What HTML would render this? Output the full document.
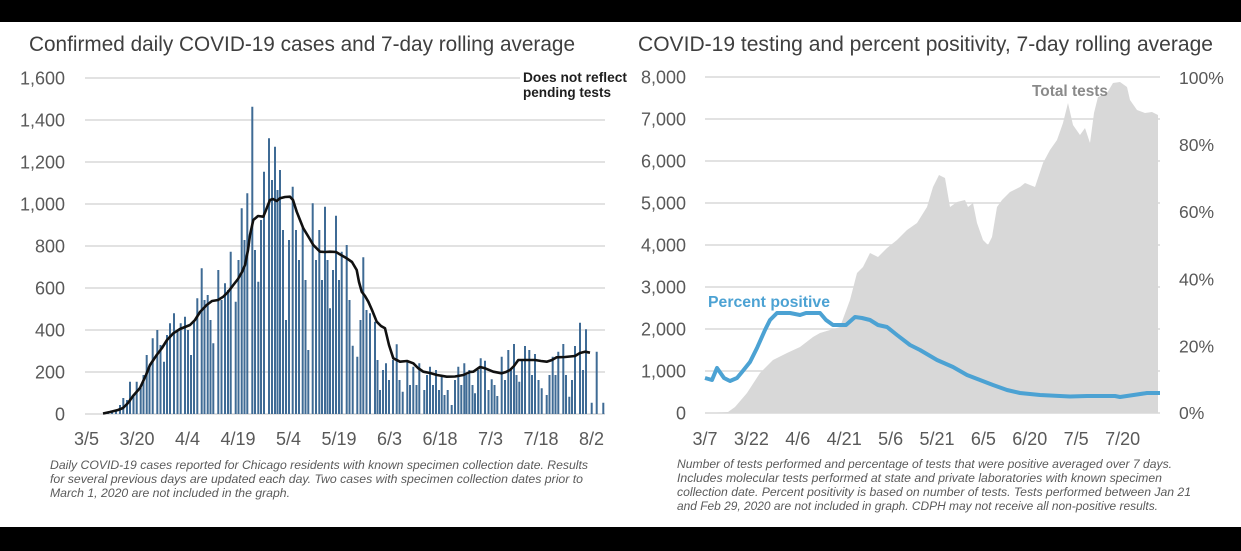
<!DOCTYPE html>
<html>
<head>
<meta charset="utf-8">
<style>
  html, body { margin: 0; padding: 0; background: #ffffff; }
  svg { display: block; }
  text { font-family: "Liberation Sans", Arial, sans-serif; }
</style>
</head>
<body>
<svg width="1241" height="551" viewBox="0 0 1241 551" xmlns="http://www.w3.org/2000/svg">
  <rect x="0" y="0" width="1241" height="551" fill="#ffffff"/>
  <rect x="0" y="0" width="1241" height="22" fill="#000"/>
  <rect x="0" y="527" width="1241" height="24" fill="#000"/>

  <!-- ===== LEFT CHART ===== -->
  <text x="29" y="51" font-size="21" fill="#3f3f3f" textLength="546" lengthAdjust="spacingAndGlyphs">Confirmed daily COVID-19 cases and 7-day rolling average</text>

  <g stroke="#d9d9d9" stroke-width="1.6">
    <line x1="85" y1="78" x2="520" y2="78"/>
    <line x1="85" y1="120" x2="605" y2="120"/>
    <line x1="85" y1="162" x2="605" y2="162"/>
    <line x1="85" y1="204" x2="605" y2="204"/>
    <line x1="85" y1="246" x2="605" y2="246"/>
    <line x1="85" y1="288" x2="605" y2="288"/>
    <line x1="85" y1="330" x2="605" y2="330"/>
    <line x1="85" y1="372" x2="605" y2="372"/>
    <line x1="85" y1="414" x2="605" y2="414"/>
  </g>

  <g font-size="18" fill="#595959" text-anchor="end">
    <text x="65" y="84.5">1,600</text>
    <text x="65" y="126.5">1,400</text>
    <text x="65" y="168.5">1,200</text>
    <text x="65" y="210.5">1,000</text>
    <text x="65" y="252.5">800</text>
    <text x="65" y="294.5">600</text>
    <text x="65" y="336.5">400</text>
    <text x="65" y="378.5">200</text>
    <text x="65" y="420.5">0</text>
  </g>

  <path fill="none" stroke="#3f6b95" stroke-width="2" d="M108 412V414M112 411V414M116 410V414M120 405V414M123.3 398V414M127 400V414M130 381.7V414M133.5 395V414M136.7 381.7V414M140.7 388V414M143.5 375V414M146.7 355V414M149.5 365V414M152.7 338.3V414M157.3 330V414M160.5 345V414M164 361.7V414M167 335V414M170 323.3V414M174 313.3V414M177.5 330V414M180.7 323.3V414M185 316.7V414M188 330V414M191 355V414M194 320V414M197.3 298.3V414M201.7 268.3V414M204.5 300V414M207.7 295V414M210.5 320V414M213.3 343.3V414M218.3 270V414M221.5 300V414M225 283.3V414M228 290V414M230.7 251.7V414M235.7 301.7V414M238.5 260V414M241.7 208.3V414M244.5 240V414M247.3 193.3V414M252.3 106.7V414M255 250V414M258.3 281.7V414M261 220V414M264 171.7V414M269 138.3V414M272 180V414M275 146.7V414M277.5 190V414M280 170V414M283 230V414M286 320V414M289 240V414M292.7 186.7V414M296 230V414M299 260V414M302.7 226.7V414M305.5 280V414M308.3 350V414M312.7 203.3V414M316 260V414M319.3 230V414M322 280V414M325 206.7V414M327.5 260V414M330 308.3V414M333 270V414M336 215.7V414M339 280V414M341.7 251.7V414M346.7 245V414M349.5 300V414M352.7 345.7V414M357.3 356.7V414M360.5 320V414M363.3 257.3V414M366.5 310V414M370 313.3V414M375 321.7V414M377.5 360V414M380 390V414M383 370V414M386 363.3V414M389 380V414M393 360V414M396.7 344.3V414M399.5 380V414M402.7 391.7V414M407.3 360V414M410 385V414M413.3 366.7V414M416.5 385V414M419.3 363.3V414M424.3 390V414M427 375V414M430 366.7V414M433 385V414M436 370V414M439 390V414M441.7 375V414M444.5 395V414M447.7 390V414M451.7 405V414M455 380V414M458.3 366.7V414M461.3 385V414M464.3 363.3V414M466.5 375V414M469.3 370V414M472.5 385V414M475 393.3V414M478 370V414M480.7 358.3V414M485 360.7V414M488.5 390V414M491.7 379.3V414M494.5 385V414M497.3 396V414M501.7 356.7V414M505 380V414M508.3 350V414M511 370V414M514 344V414M516.5 375V414M519.3 381.7V414M522 360V414M525 346V414M529.3 350V414M532 375V414M535 354V414M538.5 380V414M541.7 388.3V414M546.7 395V414M549.5 375V414M552.7 356.7V414M555.5 375V414M558.3 351.7V414M563.3 344V414M566 375V414M569.3 396.7V414M572 380V414M575 346V414M580 322.7V414M583 370V414M586 329.3V414M591.7 402.7V414M596.7 351.7V414M603.3 402.7V414"/>

  <polyline fill="none" stroke="#111111" stroke-width="2.6" stroke-linejoin="round" points="103,413.5 110,412 118,410 123,408 128,403 133,396 140,388 146,375 150,365 156.7,355 162,348 167,340 173.3,333.3 180,329 185,327 190,325 195,320 200,312 206.7,305 212,301 218,300 223.3,296.7 228,292 233.3,285 238,279 242,272 245,265 248,250 250,235 253.3,220 258,216 263.3,216.7 266,210 270,200 273,199 276.7,201 280,198.3 285,197 290,196.7 293,200 296.7,211.7 300,220 303.3,228.3 308,236 313.3,245 320,251.7 325,252 330,251.7 336,252 341,255 346.7,258.3 352,262 356.7,270 359,282 361.7,291.7 365,296 368.3,301.7 372,310 376.7,321.7 381,326 385,328.3 389,345 393.3,358.3 400,361.7 407,361 413.3,363.3 418,368 423.3,371.7 430,373 437,375 446.7,376.7 455,376.5 463.3,375 470,372 473.3,371.7 480,367 485,368.3 493.3,371.7 501.7,373.3 506,372 510,370 514,366 518.3,360 525,360 535,360 541,361 546.7,361.7 552,360 556.7,357.3 565,357 575,356 580,353 585,351.7 590,352.7"/>

  <text x="523" y="82" font-size="14" font-weight="bold" fill="#1e1e1e" textLength="104" lengthAdjust="spacingAndGlyphs">Does not reflect</text>
  <text x="523" y="97" font-size="14" font-weight="bold" fill="#1e1e1e" textLength="88" lengthAdjust="spacingAndGlyphs">pending tests</text>

  <g font-size="18" fill="#595959" text-anchor="middle">
    <text x="86.5" y="445">3/5</text>
    <text x="137" y="445">3/20</text>
    <text x="187.5" y="445">4/4</text>
    <text x="238" y="445">4/19</text>
    <text x="288.5" y="445">5/4</text>
    <text x="339" y="445">5/19</text>
    <text x="389.5" y="445">6/3</text>
    <text x="440" y="445">6/18</text>
    <text x="490.5" y="445">7/3</text>
    <text x="541" y="445">7/18</text>
    <text x="591.5" y="445">8/2</text>
  </g>

  <g font-size="11.5" font-style="italic" fill="#5a5a5a">
    <text x="50" y="469" textLength="538" lengthAdjust="spacingAndGlyphs">Daily COVID-19 cases reported for Chicago residents with known specimen collection date. Results</text>
    <text x="50" y="483" textLength="533" lengthAdjust="spacingAndGlyphs">for several previous days are updated each day. Two cases with specimen collection dates prior to</text>
    <text x="50" y="497" textLength="240" lengthAdjust="spacingAndGlyphs">March 1, 2020 are not included in the graph.</text>
  </g>

  <!-- ===== RIGHT CHART ===== -->
  <text x="638" y="51" font-size="21" fill="#3f3f3f" textLength="575" lengthAdjust="spacingAndGlyphs">COVID-19 testing and percent positivity, 7-day rolling average</text>

  <g stroke="#d9d9d9" stroke-width="1.6">
    <line x1="705" y1="77" x2="1160" y2="77"/>
    <line x1="705" y1="119" x2="1160" y2="119"/>
    <line x1="705" y1="161" x2="1160" y2="161"/>
    <line x1="705" y1="203" x2="1160" y2="203"/>
    <line x1="705" y1="245" x2="1160" y2="245"/>
    <line x1="705" y1="287" x2="1160" y2="287"/>
    <line x1="705" y1="329" x2="1160" y2="329"/>
    <line x1="705" y1="371" x2="1160" y2="371"/>
    <line x1="705" y1="413" x2="1160" y2="413"/>
  </g>

  <g font-size="18" fill="#595959" text-anchor="end">
    <text x="686" y="83.5">8,000</text>
    <text x="686" y="125.5">7,000</text>
    <text x="686" y="167.5">6,000</text>
    <text x="686" y="209.5">5,000</text>
    <text x="686" y="251.5">4,000</text>
    <text x="686" y="293.5">3,000</text>
    <text x="686" y="335.5">2,000</text>
    <text x="686" y="377.5">1,000</text>
    <text x="686" y="419.5">0</text>
  </g>

  <g font-size="17.5" fill="#595959">
    <text x="1179" y="84">100%</text>
    <text x="1179" y="151">80%</text>
    <text x="1179" y="218">60%</text>
    <text x="1179" y="285.5">40%</text>
    <text x="1179" y="352.5">20%</text>
    <text x="1179" y="419">0%</text>
  </g>

  <path fill="#d8d8d8" d="M705 413 L728 412 L735 407 L747 393 L760 373 L773 360 L787 353 L800 347 L813 337 L820 333 L830 330 L840 327 L850 300 L857 273 L863 267 L870 253 L878 257 L887 248 L897 240 L907 230 L917 223 L927 207 L933 187 L939 175 L945 178 L950 207 L957 202 L965 200 L968 207 L973 203 L977 223 L983 240 L988 245 L992 237 L997 207 L1002 200 L1010 192 L1020 187 L1025 183 L1035 187 L1043 163 L1050 150 L1057 140 L1063 123 L1068 103 L1073 125 L1080 135 L1085 128 L1090 143 L1094 113 L1098 97 L1107 93 L1113 83 L1120 82 L1127 87 L1130 100 L1137 110 L1145 113 L1152 112 L1158 115 L1158 413 Z"/>

  <text x="1032" y="96" font-size="15.3" font-weight="bold" fill="#8a8a8a" textLength="76" lengthAdjust="spacingAndGlyphs">Total tests</text>

  <polyline fill="none" stroke="#4ca2d3" stroke-width="4" stroke-linejoin="round" points="705,378 712,380 717,368 724,378 730,381 737,378 742,372 750,362 757,348 765,330 770,320 777,313 790,313 800,315 806,313 820,313 826,320 833,325 846,325 855,317 862,318 870,320 878,325 887,327 897,335 910,345 920,350 937,360 953,367 967,375 980,380 993,385 1007,390 1020,393 1040,395 1070,396.5 1087,396 1115,396 1120,397 1137,394.5 1147,393 1160,393"/>

  <text x="708" y="307" font-size="16" font-weight="bold" fill="#4ca2d3" textLength="122" lengthAdjust="spacingAndGlyphs">Percent positive</text>

  <g font-size="18" fill="#595959" text-anchor="middle">
    <text x="705" y="445">3/7</text>
    <text x="751.4" y="445">3/22</text>
    <text x="797.8" y="445">4/6</text>
    <text x="844.2" y="445">4/21</text>
    <text x="890.6" y="445">5/6</text>
    <text x="937" y="445">5/21</text>
    <text x="983.4" y="445">6/5</text>
    <text x="1029.8" y="445">6/20</text>
    <text x="1076.2" y="445">7/5</text>
    <text x="1122.6" y="445">7/20</text>
  </g>

  <g font-size="11.5" font-style="italic" fill="#5a5a5a">
    <text x="677" y="468" textLength="495" lengthAdjust="spacingAndGlyphs">Number of tests performed and percentage of tests that were positive averaged over 7 days.</text>
    <text x="677" y="482" textLength="485" lengthAdjust="spacingAndGlyphs">Includes molecular tests performed at state and private laboratories with known specimen</text>
    <text x="677" y="496" textLength="514" lengthAdjust="spacingAndGlyphs">collection date. Percent positivity is based on number of tests. Tests performed between Jan 21</text>
    <text x="677" y="510" textLength="481" lengthAdjust="spacingAndGlyphs">and Feb 29, 2020 are not included in graph. CDPH may not receive all non-positive results.</text>
  </g>
</svg>
</body>
</html>
